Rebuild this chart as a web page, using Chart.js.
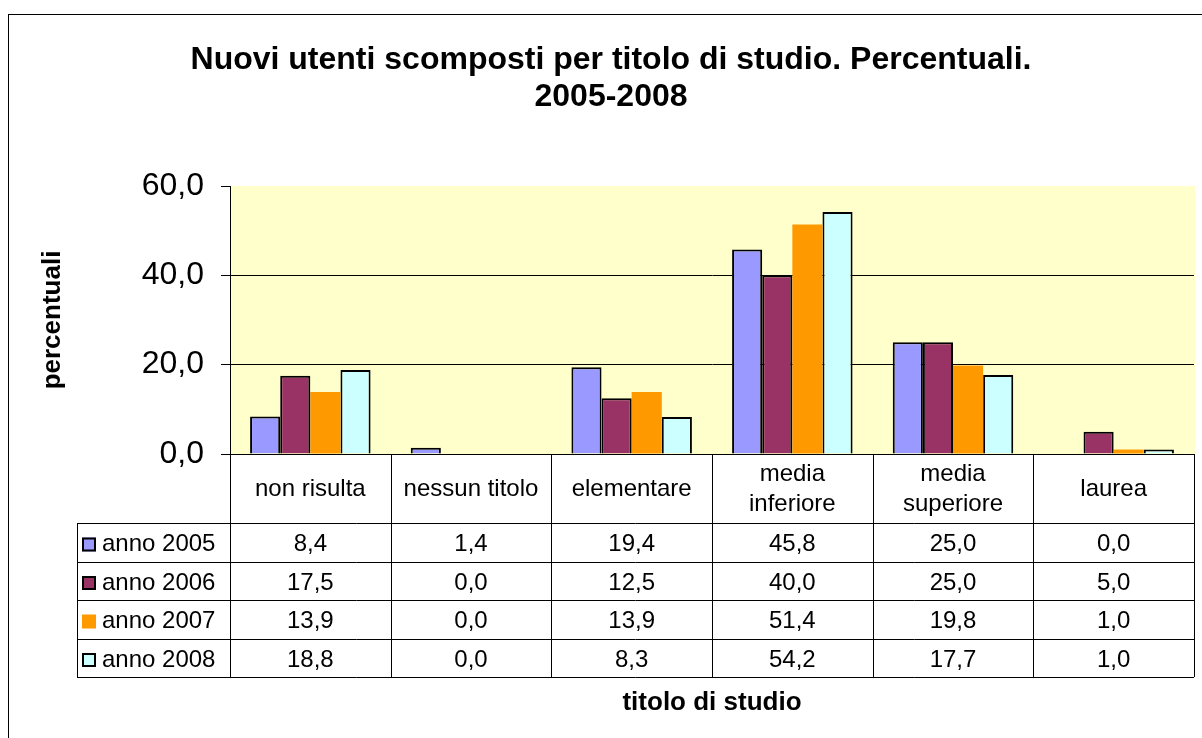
<!DOCTYPE html>
<html>
<head>
<meta charset="utf-8">
<script src="https://cdn.jsdelivr.net/npm/chart.js@4.4.1/dist/chart.umd.min.js"></script>
<style>
  html, body { margin: 0; padding: 0; background: #fff; }
</style>
</head>
<body>
<canvas id="chart" width="1202" height="738"></canvas>
<script>
// Data
const chartTitle = ['Nuovi utenti scomposti per titolo di studio. Percentuali.', '2005-2008'];
const categories = [['non risulta'], ['nessun titolo'], ['elementare'], ['media', 'inferiore'], ['media', 'superiore'], ['laurea']];
const seriesNames = ['anno 2005', 'anno 2006', 'anno 2007', 'anno 2008'];
const anno2005 = [8.4, 1.4, 19.4, 45.8, 25.0, 0.0];
const anno2006 = [17.5, 0.0, 12.5, 40.0, 25.0, 5.0];
const anno2007 = [13.9, 0.0, 13.9, 51.4, 19.8, 1.0];
const anno2008 = [18.8, 0.0, 8.3, 54.2, 17.7, 1.0];
const yTicks = [0, 20, 40, 60];

const seriesValues = [anno2005, anno2006, anno2007, anno2008];
const seriesColors = ['#9999FF', '#993366', '#FF9900', '#CCFFFF'];
const seriesBorders = [true, true, false, true];

const fontFamily = "'Liberation Sans', Arial, sans-serif";
const fmt = v => v.toFixed(1).replace('.', ',');

// frame, plot background, title and data table
const tablePlugin = {
    id: 'tablePlugin',
    beforeDraw(chart) {
        const ctx = chart.ctx;
        const area = chart.chartArea;
        ctx.save();
        ctx.fillStyle = '#fff';
        ctx.fillRect(0, 0, chart.width, chart.height);
        ctx.strokeStyle = '#000';
        ctx.lineWidth = 1;
        ctx.strokeRect(8.5, 14.5, 1400, 1000);
        ctx.fillStyle = '#FFFFCC';
        ctx.fillRect(area.left, area.top, area.right - area.left + 1, area.bottom - area.top);

        // title
        ctx.fillStyle = '#000';
        ctx.font = 'bold 32px ' + fontFamily;
        ctx.textAlign = 'center';
        ctx.textBaseline = 'middle';
        ctx.fillText(chartTitle[0], 611, 60);
        ctx.fillText(chartTitle[1], 611, 97);
        ctx.restore();
    },
    afterDraw(chart) {
        const ctx = chart.ctx;
        const xs = chart.scales.x;
        const area = chart.chartArea;
        const catW = (xs.right - xs.left) / categories.length;
        const tableLeft = 77;
        const rowLines = [523, 562, 600, 639, 677];
        const axisY = area.bottom;

        ctx.save();
        ctx.strokeStyle = '#000';
        ctx.lineWidth = 1;
        ctx.beginPath();
        rowLines.forEach(y => {
            ctx.moveTo(tableLeft, y + 0.5);
            ctx.lineTo(xs.right, y + 0.5);
        });
        ctx.moveTo(tableLeft + 0.5, rowLines[0]);
        ctx.lineTo(tableLeft + 0.5, rowLines[rowLines.length - 1]);
        for (let i = 0; i <= categories.length; i++) {
            const x = Math.round(xs.left + i * catW) + 0.5;
            ctx.moveTo(x, axisY);
            ctx.lineTo(x, rowLines[rowLines.length - 1]);
        }
        ctx.stroke();

        ctx.fillStyle = '#000';
        ctx.font = '24px ' + fontFamily;
        ctx.textBaseline = 'middle';
        ctx.textAlign = 'center';

        // category labels
        const labelMid = (axisY + rowLines[0]) / 2 + 1;
        categories.forEach((lines, i) => {
            const cx = xs.getPixelForValue(i);
            const start = labelMid - (lines.length - 1) * 15;
            lines.forEach((t, j) => ctx.fillText(t, cx, start + j * 30));
        });

        // rows
        seriesNames.forEach((name, r) => {
            const cy = (rowLines[r] + rowLines[r + 1]) / 2 + 2;
            // legend key
            ctx.fillStyle = seriesColors[r];
            ctx.fillRect(82, cy - 7, 14, 14);
            if (seriesBorders[r]) {
                ctx.strokeStyle = '#000';
                ctx.lineWidth = 2;
                ctx.strokeRect(83, cy - 6, 12, 12);
            }
            ctx.fillStyle = '#000';
            ctx.textAlign = 'left';
            ctx.fillText(name, 102, cy);
            ctx.textAlign = 'center';
            seriesValues[r].forEach((v, i) => {
                ctx.fillText(fmt(v), xs.getPixelForValue(i), cy);
            });
        });
        ctx.restore();
    }
};

const datasets = seriesNames.map((name, i) => ({
    label: name,
    data: seriesValues[i],
    backgroundColor: seriesColors[i],
    borderColor: '#000',
    borderWidth: c => (!seriesBorders[i] || c.raw === 0) ? 0 : 2,
    categoryPercentage: 0.75,
    barPercentage: 1.0
}));

new Chart(document.getElementById('chart'), {
    type: 'bar',
    data: {
        labels: categories.map(c => c.join(' ')),
        datasets: datasets
    },
    options: {
        responsive: false,
        animation: false,
        layout: { padding: { top: 186, right: 8, left: 0, bottom: 0 } },
        plugins: {
            legend: { display: false },
            tooltip: { enabled: false }
        },
        scales: {
            x: {
                ticks: { display: false },
                grid: { display: false },
                border: { display: true, color: '#000', width: 1 },
                title: {
                    display: true,
                    text: 'titolo di studio',
                    color: '#000',
                    font: { family: fontFamily, size: 26, weight: 'bold' },
                    padding: { top: 0, bottom: 20 }
                },
                afterFit: scale => { scale.height = 284; }
            },
            y: {
                min: 0,
                max: 60,
                afterBuildTicks: scale => { scale.ticks = yTicks.map(v => ({ value: v })); },
                ticks: {
                    color: '#000',
                    padding: 17,
                    font: { family: fontFamily, size: 32 },
                    callback: v => fmt(v)
                },
                grid: {
                    color: c => (c.tick && (c.tick.value === 20 || c.tick.value === 40)) ? '#000' : 'rgba(0,0,0,0)',
                    tickColor: '#000',
                    tickLength: 9
                },
                border: { display: true, color: '#000', width: 1 },
                title: {
                    display: true,
                    text: 'percentuali',
                    color: '#000',
                    font: { family: fontFamily, size: 26, weight: 'bold' },
                    padding: { top: 37, bottom: 0 }
                },
                afterFit: scale => { scale.width = 230; }
            }
        }
    },
    plugins: [tablePlugin]
});
</script>
</body>
</html>
